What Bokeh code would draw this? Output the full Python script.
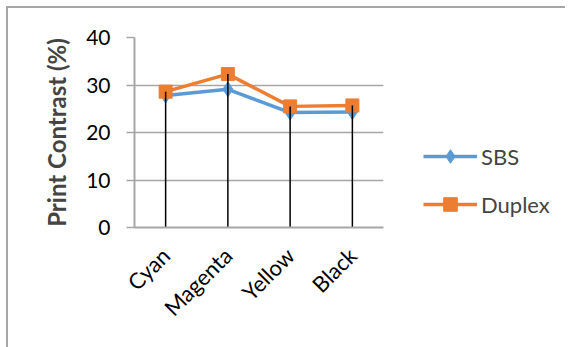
import numpy as np
from bokeh.plotting import figure
from bokeh.layouts import row
from bokeh.models import (FactorRange, Range1d, Legend, LegendItem, ColumnDataSource,
                          FixedTicker, InlineStyleSheet)
from bokeh.embed import file_html
from bokeh.resources import INLINE

categories = ["Cyan", "Magenta", "Yellow", "Black"]
sbs = [27.8, 29.1, 24.2, 24.3]
duplex = [28.6, 32.3, 25.5, 25.7]
y_ticks = [0, 10, 20, 30, 40]

FONT = "Lato"
GRID = "#a6a6a6"
BLUE = "#5B9BD5"
ORANGE = "#ED7D31"

src = ColumnDataSource(dict(cat=categories, sbs=sbs, duplex=duplex,
                            top=np.maximum(sbs, duplex), zero=[0] * len(categories)))

# main plot: canvas starts at page (8, 8)
p = figure(width=392, height=339, output_backend="svg", toolbar_location=None,
           x_range=FactorRange(*categories, range_padding=0), y_range=Range1d(0, 40),
           min_border_left=126, min_border_right=17, min_border_top=29, min_border_bottom=120)
p.outline_line_color = None
p.background_fill_color = "white"
p.border_fill_color = "white"

p.xgrid.grid_line_color = None
p.ygrid.grid_line_color = GRID
p.ygrid.grid_line_width = 1.5
p.yaxis.ticker = FixedTicker(ticks=y_ticks)

for ax in (p.xaxis[0], p.yaxis[0]):
    ax.axis_line_color = GRID
    ax.axis_line_width = 2
    ax.major_label_text_font = FONT
    ax.major_label_text_color = "black"
    ax.minor_tick_line_color = None

p.yaxis.major_label_text_font_size = "21px"
p.yaxis.major_tick_line_color = GRID
p.yaxis.major_tick_line_width = 1.5
p.yaxis.major_tick_out = 8
p.yaxis.major_tick_in = 0
p.yaxis.major_label_standoff = 16
p.yaxis.axis_label = "Print Contrast (%)"
p.yaxis.axis_label_text_font = FONT
p.yaxis.axis_label_text_font_style = "bold"
p.yaxis.axis_label_text_font_size = "24px"
p.yaxis.axis_label_standoff = 12

p.xaxis.major_label_text_font_size = "22px"
p.xaxis.major_tick_line_color = None
p.xaxis.major_label_orientation = np.pi / 4
p.xaxis.major_label_standoff = 18

p.line("cat", "sbs", source=src, line_color=BLUE, line_width=3.5)
p.scatter("cat", "sbs", source=src, marker="diamond", size=15, fill_color=BLUE, line_color=BLUE)
p.line("cat", "duplex", source=src, line_color=ORANGE, line_width=3.5)
p.scatter("cat", "duplex", source=src, marker="square", size=13, fill_color=ORANGE, line_color=ORANGE)
p.segment(x0="cat", y0="zero", x1="cat", y1="top", source=src, line_color="black", line_width=1.5)

# legend panel: same series, drawn outside its visible range so only the legend shows
lg = figure(width=165, height=339, output_backend="svg", toolbar_location=None,
            x_range=FactorRange(*categories), y_range=Range1d(1000, 2000),
            x_axis_type=None, y_axis_type=None,
            min_border_left=0, min_border_right=0, min_border_top=0, min_border_bottom=0)
lg.outline_line_color = None
lg.background_fill_color = "white"
lg.border_fill_color = "white"
lg.xgrid.grid_line_color = None
lg.ygrid.grid_line_color = None
l1 = lg.line("cat", "sbs", source=src, line_color=BLUE, line_width=3.5)
m1 = lg.scatter("cat", "sbs", source=src, marker="diamond", size=15, fill_color=BLUE, line_color=BLUE)
l2 = lg.line("cat", "duplex", source=src, line_color=ORANGE, line_width=3.5)
m2 = lg.scatter("cat", "duplex", source=src, marker="square", size=13, fill_color=ORANGE, line_color=ORANGE)

legend = Legend(items=[LegendItem(label="SBS", renderers=[l1, m1]),
                       LegendItem(label="Duplex", renderers=[l2, m2])],
                location=(23, 6), orientation="vertical")
legend.border_line_color = None
legend.background_fill_alpha = 0
legend.label_text_font = FONT
legend.label_text_font_size = "22px"
legend.glyph_width = 54
legend.glyph_height = 34
legend.label_height = 20
legend.spacing = 14
legend.label_standoff = 4
legend.padding = 0
legend.margin = 0
lg.add_layout(legend, "center")

css = InlineStyleSheet(css=":host { border-left: 2px solid #a6a6a6; border-top: 2px solid #a6a6a6; }")
layout = row(p, lg, margin=(6, 0, 0, 6), stylesheets=[css])

open("out.html", "w").write(file_html(layout, INLINE))
